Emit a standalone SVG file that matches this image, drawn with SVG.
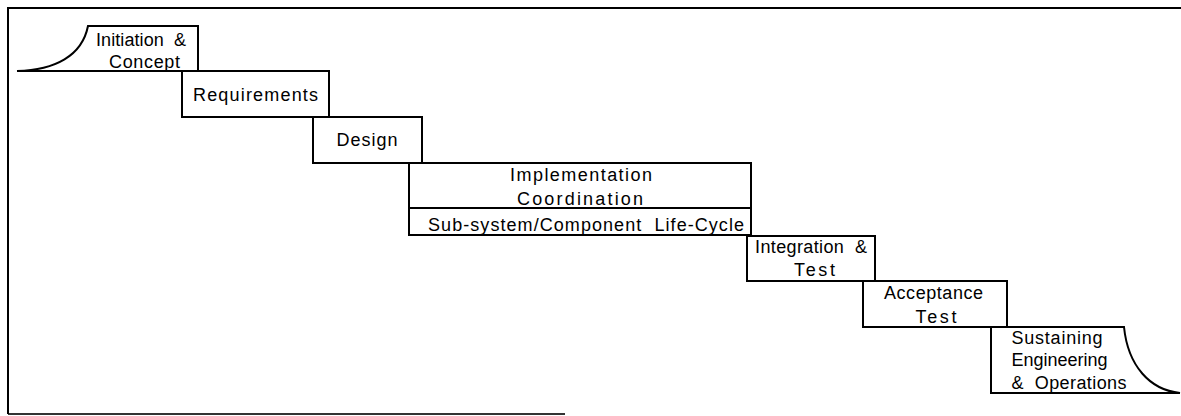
<svg xmlns="http://www.w3.org/2000/svg" width="1181" height="416" viewBox="0 0 1181 416">
<style>
.box{fill:#fff;stroke:#000;stroke-width:2;stroke-linejoin:miter}
.frame{fill:none;stroke:#000;stroke-width:2}
text{font-family:"Liberation Sans",Arial,sans-serif;font-size:18px;fill:#000;white-space:pre}
</style>
<rect width="1181" height="416" fill="#fff"/>
<g id="frame">
<path class="frame" d="M8,414 L8,8 L1181,8"/>
<path class="frame" d="M8,414 L565,414" stroke-opacity="0.8"/>
</g>
<g id="initiation">
<path class="box" d="M17,71 C55,70 82,56 88,26 L198,26 L198,71 Z"/>
<text x="96" y="45.5" textLength="90" lengthAdjust="spacing">Initiation  &amp;</text>
<text x="109" y="67.5" textLength="71" lengthAdjust="spacing">Concept</text>
</g>
<g id="requirements">
<rect class="box" x="182" y="71" width="147" height="46"/>
<text x="193" y="100.5" textLength="125" lengthAdjust="spacing">Requirements</text>
</g>
<g id="design">
<rect class="box" x="313" y="117" width="109" height="46"/>
<text x="336.5" y="145.5" textLength="61" lengthAdjust="spacing">Design</text>
</g>
<g id="implementation">
<rect class="box" x="409" y="163" width="342" height="72"/>
<line x1="409" y1="208" x2="751" y2="208" stroke="#000" stroke-width="2"/>
<text x="510" y="181" textLength="142" lengthAdjust="spacing">Implementation</text>
<text x="517" y="205" textLength="126" lengthAdjust="spacing">Coordination</text>
<text x="428" y="230.5" textLength="316" lengthAdjust="spacing">Sub-system/Component  Life-Cycle</text>
</g>
<g id="integration">
<rect class="box" x="747" y="236" width="128" height="45"/>
<text x="755" y="252.5" textLength="112" lengthAdjust="spacing">Integration  &amp;</text>
<text x="794" y="276" textLength="41" lengthAdjust="spacing">Test</text>
</g>
<g id="acceptance">
<rect class="box" x="863" y="281" width="144" height="46"/>
<text x="884" y="299" textLength="99" lengthAdjust="spacing">Acceptance</text>
<text x="915.5" y="322.5" textLength="41" lengthAdjust="spacing">Test</text>
</g>
<g id="sustaining">
<path class="box" d="M991,327 L1124,327 C1128,366 1150,390 1180,393 L991,393 Z"/>
<text x="1011.5" y="343.5" textLength="91" lengthAdjust="spacing">Sustaining</text>
<text x="1011.5" y="366" textLength="96" lengthAdjust="spacing">Engineering</text>
<text x="1011.5" y="388.5" textLength="115" lengthAdjust="spacing">&amp;  Operations</text>
</g>
<g id="connectors"></g>
</svg>
